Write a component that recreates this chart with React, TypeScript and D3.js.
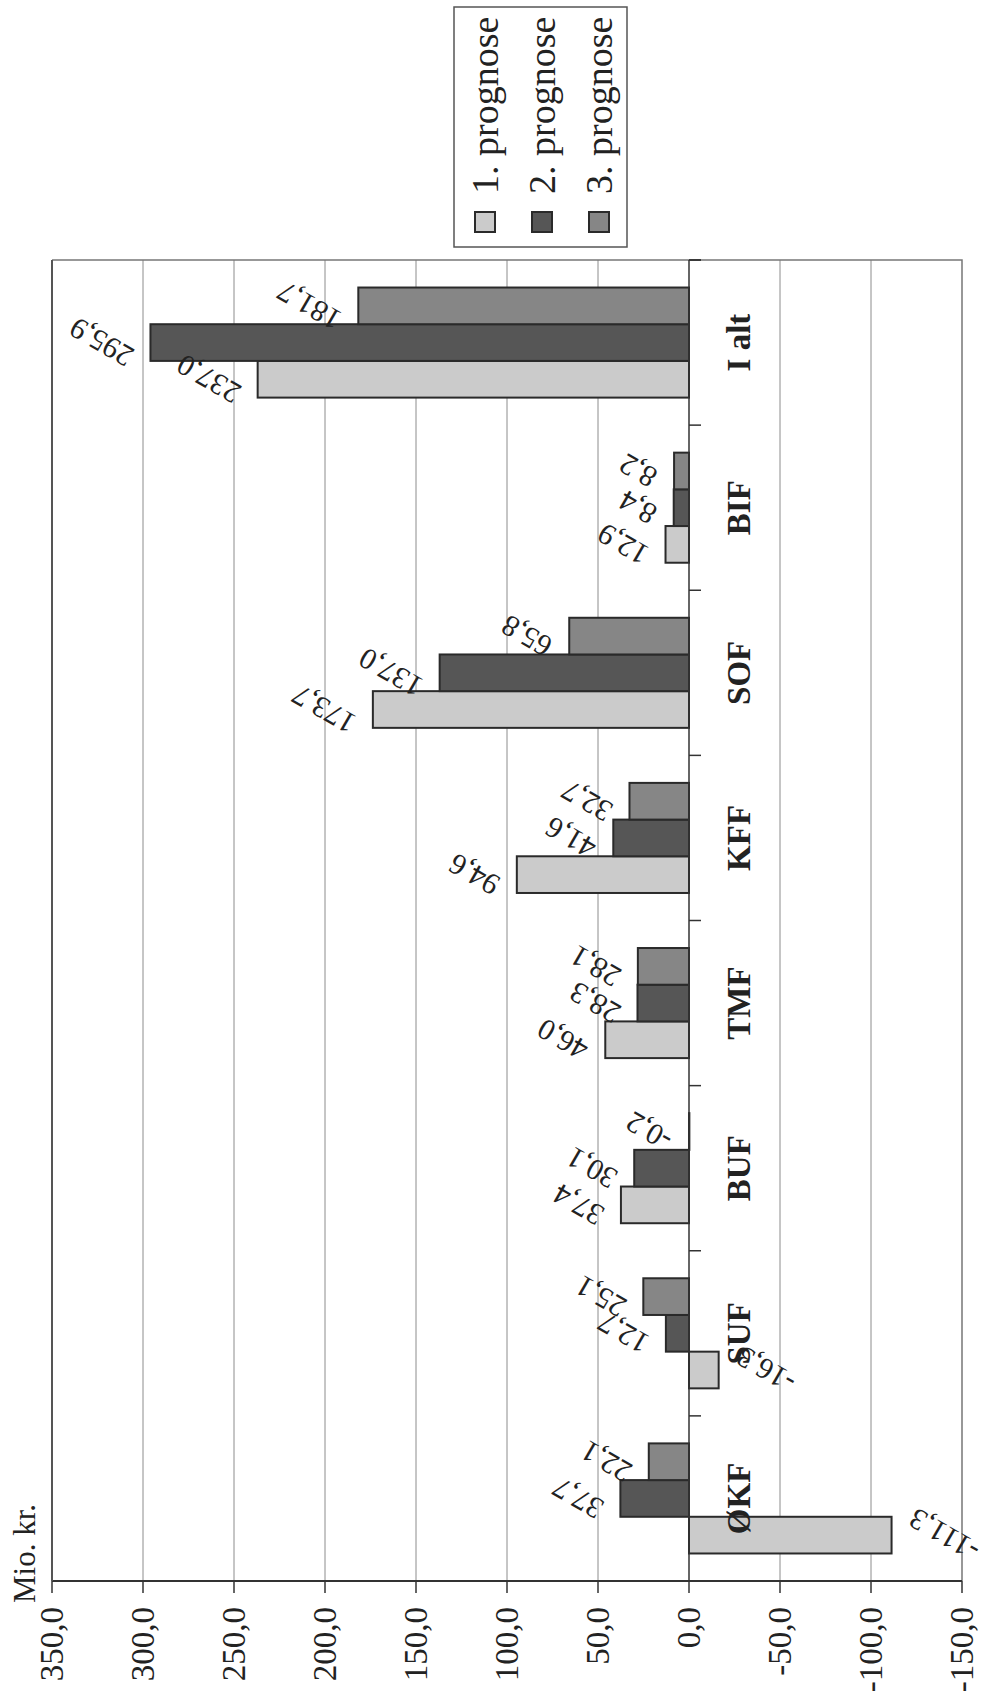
import { useEffect, useRef } from "react";
import * as d3 from "d3";

const categories = ["ØKF", "SUF", "BUF", "TMF", "KFF", "SOF", "BIF", "I alt"];
const prognose1 = [-111.3, -16.3, 37.4, 46.0, 94.6, 173.7, 12.9, 237.0];
const prognose2 = [37.7, 12.7, 30.1, 28.3, 41.6, 137.0, 8.4, 295.9];
const prognose3 = [22.1, 25.1, -0.2, 28.1, 32.7, 65.8, 8.2, 181.7];
const seriesNames = ["1. prognose", "2. prognose", "3. prognose"];
const seriesColors = ["#cbcbcb", "#565656", "#868686"];
const valueTicks = [350, 300, 250, 200, 150, 100, 50, 0, -50, -100, -150];
const axisTitle = "Mio. kr.";

const W = 984;
const H = 1697;
const FONT = "'Liberation Serif', 'Times New Roman', serif";

const locale = d3.formatLocale({
  decimal: ",",
  thousands: ".",
  grouping: [3],
  currency: ["", ""],
  minus: "-",
});
const fmt = locale.format(".1f");

export default function App() {
  const svgRef = useRef<SVGSVGElement | null>(null);

  useEffect(() => {
    const svgEl = svgRef.current;
    if (!svgEl) return;
    const svg = d3.select(svgEl);
    svg.selectAll("*").remove();

    // chart is drawn turned on its side: values run right-to-left
    const plot = { left: 52, right: 962, top: 260, bottom: 1581 };

    const x = d3.scaleLinear().domain([350, -150]).range([plot.left, plot.right]);
    const y = d3
      .scaleBand<string>()
      .domain([...categories].reverse())
      .range([plot.top, plot.bottom])
      .paddingInner(1 / 3)
      .paddingOuter(1 / 6);
    const inner = d3
      .scaleBand<number>()
      .domain([2, 1, 0])
      .range([0, y.bandwidth()]);

    const series = [prognose1, prognose2, prognose3];

    svg.append("rect").attr("width", W).attr("height", H).attr("fill", "#fff");

    // gridlines
    svg
      .append("g")
      .selectAll("line")
      .data(valueTicks.filter((t) => t !== 350 && t !== -150 && t !== 0))
      .join("line")
      .attr("x1", (d) => x(d))
      .attr("x2", (d) => x(d))
      .attr("y1", plot.top)
      .attr("y2", plot.bottom)
      .attr("stroke", "#8c8c8c")
      .attr("stroke-width", 1);

    // frame
    svg
      .append("path")
      .attr("d", `M${plot.left},${plot.top}H${plot.right}V${plot.bottom}`)
      .attr("fill", "none")
      .attr("stroke", "#777")
      .attr("stroke-width", 1.5);

    // bars
    series.forEach((vals, si) => {
      svg
        .append("g")
        .selectAll("rect")
        .data(vals)
        .join("rect")
        .attr("x", (d) => Math.min(x(0), x(d)))
        .attr("width", (d) => Math.abs(x(d) - x(0)))
        .attr("y", (_, i) => y(categories[i])! + inner(si)!)
        .attr("height", inner.bandwidth())
        .attr("fill", seriesColors[si])
        .attr("stroke", "#2a2a2a")
        .attr("stroke-width", 2);
    });

    // category axis at zero
    svg
      .append("line")
      .attr("x1", x(0))
      .attr("x2", x(0))
      .attr("y1", plot.top)
      .attr("y2", plot.bottom)
      .attr("stroke", "#333")
      .attr("stroke-width", 1.5);
    const bounds = categories.map((c) => y(c)! - (y.step() - y.bandwidth()) / 2);
    bounds.push(plot.top);
    svg
      .append("g")
      .selectAll("line")
      .data(bounds)
      .join("line")
      .attr("x1", x(0))
      .attr("x2", x(0) + 12)
      .attr("y1", (d) => d)
      .attr("y2", (d) => d)
      .attr("stroke", "#333")
      .attr("stroke-width", 1.5);

    // category labels
    svg
      .append("g")
      .selectAll("text")
      .data(categories)
      .join("text")
      .attr("transform", (d) => `translate(${x(0) + 50},${y(d)! + y.bandwidth() / 2}) rotate(-90)`)
      .attr("text-anchor", "middle")
      .attr("dominant-baseline", "central")
      .attr("font-family", FONT)
      .attr("font-weight", "bold")
      .attr("font-size", 33)
      .attr("fill", "#222")
      .text((d) => d);

    // value axis (bottom)
    svg
      .append("line")
      .attr("x1", plot.left)
      .attr("x2", plot.right)
      .attr("y1", plot.bottom)
      .attr("y2", plot.bottom)
      .attr("stroke", "#333")
      .attr("stroke-width", 2);
    svg
      .append("line")
      .attr("x1", plot.left)
      .attr("x2", plot.left)
      .attr("y1", plot.top)
      .attr("y2", plot.bottom)
      .attr("stroke", "#555")
      .attr("stroke-width", 2);
    const ticks = svg.append("g");
    ticks
      .selectAll("line")
      .data(valueTicks)
      .join("line")
      .attr("x1", (d) => x(d))
      .attr("x2", (d) => x(d))
      .attr("y1", plot.bottom)
      .attr("y2", plot.bottom + 12)
      .attr("stroke", "#333")
      .attr("stroke-width", 1.5);
    ticks
      .selectAll("text")
      .data(valueTicks)
      .join("text")
      .attr("transform", (d) => `translate(${x(d)},${plot.bottom + 26}) rotate(-90)`)
      .attr("text-anchor", "end")
      .attr("dominant-baseline", "central")
      .attr("font-family", FONT)
      .attr("font-size", 33)
      .attr("fill", "#222")
      .text((d) => fmt(d));

    svg
      .append("text")
      .attr("transform", `translate(24,${plot.bottom + 22}) rotate(-90)`)
      .attr("text-anchor", "start")
      .attr("dominant-baseline", "central")
      .attr("font-family", FONT)
      .attr("font-size", 31)
      .attr("fill", "#222")
      .text(axisTitle);

    // data labels, tilted
    const angle = 210;
    const rad = (angle * Math.PI) / 180;
    const gap = 14;
    const fs = 30;
    series.forEach((vals, si) => {
      const g = svg.append("g");
      vals.forEach((v, i) => {
        const t = g
          .append("text")
          .attr("text-anchor", "middle")
          .attr("dominant-baseline", "central")
          .attr("font-family", FONT)
          .attr("font-size", fs)
          .attr("fill", "#222")
          .text(fmt(v));
        const len = (t.node() as SVGTextElement).getComputedTextLength();
        const halfW = (len * Math.abs(Math.cos(rad)) + fs * 0.8 * Math.abs(Math.sin(rad))) / 2;
        const end = x(v);
        const cy = y(categories[i])! + inner(si)! + inner.bandwidth() / 2;
        const cx = v < -0.5 ? end + gap + halfW : end - gap - halfW;
        t.attr("transform", `translate(${cx},${cy}) rotate(${angle})`);
      });
    });

    // legend
    const lg = svg.append("g");
    lg.append("rect")
      .attr("x", 454)
      .attr("y", 7)
      .attr("width", 173)
      .attr("height", 240)
      .attr("fill", "#fff")
      .attr("stroke", "#555")
      .attr("stroke-width", 1.5);
    const lx = d3.scalePoint<number>().domain([0, 1, 2]).range([485, 599]);
    seriesNames.forEach((name, si) => {
      lg.append("rect")
        .attr("x", lx(si)! - 10)
        .attr("y", 212)
        .attr("width", 20)
        .attr("height", 20)
        .attr("fill", seriesColors[si])
        .attr("stroke", "#2a2a2a")
        .attr("stroke-width", 2);
      lg.append("text")
        .attr("transform", `translate(${lx(si)},194) rotate(-90)`)
        .attr("text-anchor", "start")
        .attr("dominant-baseline", "central")
        .attr("font-family", FONT)
        .attr("font-size", 38)
        .attr("fill", "#222")
        .text(name);
    });
  }, []);

  return (
    <div style={{ position: "absolute", left: 0, top: 0 }}>
      <svg ref={svgRef} width={W} height={H} />
    </div>
  );
}
